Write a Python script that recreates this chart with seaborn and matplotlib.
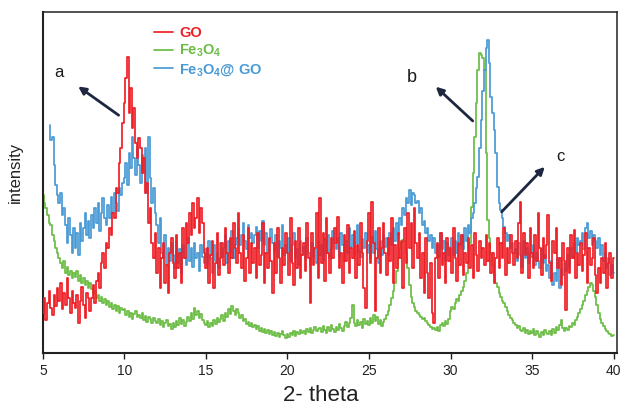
import numpy as np
import pandas as pd
import matplotlib
matplotlib.use("Agg")
import matplotlib.pyplot as plt
import seaborn as sns

sns.set_style("ticks")
plt.rcParams["font.family"] = ["Liberation Sans", "DejaVu Sans"]
plt.rcParams["mathtext.fontset"] = "custom"
plt.rcParams["mathtext.rm"] = "Liberation Sans:bold"
plt.rcParams["mathtext.default"] = "rm"

# 2-theta grid (degrees), 0.1 degree steps from 5 to 40
two_theta = [round(5 + 0.1 * i, 1) for i in range(351)]

# GO
go = [
    40, 55, 33, 50, 62, 45, 38, 58, 47, 65,
    52, 70, 44, 60, 48, 75, 55, 40, 62, 50,
    45, 58, 30, 52, 66, 48, 35, 60, 55, 42,
    55, 68, 50, 72, 80, 65, 90, 100, 85, 110,
    105, 125, 118, 140, 135, 165, 160, 190, 205, 230,
    250, 275, 296, 240, 265, 225, 245, 210, 195, 215,
    205, 180, 195, 160, 170, 130, 145, 110, 95, 120,
    80, 105, 65, 95, 110, 70, 88, 60, 100, 115,
    90, 75, 118, 85, 100, 70, 125, 95, 130, 110,
    140, 118, 150, 125, 135, 155, 120, 145, 130, 100,
    85, 105, 70, 98, 112, 65, 90, 120, 78, 95,
    110, 88, 125, 100, 80, 115, 95, 130, 105, 90,
    140, 100, 85, 118, 72, 95, 125, 80, 110, 90,
    105, 75, 120, 88, 98, 130, 70, 100, 85, 115,
    92, 60, 110, 80, 125, 95, 70, 105, 88, 120,
    100, 78, 135, 90, 68, 112, 85, 125, 75, 98,
    110, 82, 130, 95, 50, 120, 88, 105, 140, 75,
    155, 90, 120, 72, 135, 100, 80, 115, 95, 125,
    110, 136, 85, 100, 70, 118, 92, 128, 80, 105,
    95, 122, 75, 108, 88, 130, 100, 65, 45, 112,
    140, 90, 151, 110, 42, 95, 125, 80, 105, 130,
    100, 78, 115, 92, 135, 70, 108, 85, 120, 95,
    112, 65, 125, 90, 140, 105, 130, 85, 145, 110,
    95, 120, 75, 100, 60, 115, 80, 55, 90, 40,
    30, 95, 110, 75, 120, 88, 100, 70, 115, 92,
    105, 80, 125, 95, 72, 110, 88, 118, 78, 100,
    90, 115, 85, 108, 75, 120, 98, 82, 112, 95,
    105, 88, 118, 92, 110, 80, 100, 70, 95, 115,
    85, 110, 95, 125, 78, 105, 90, 118, 100, 88,
    112, 95, 130, 151, 80, 120, 98, 110, 75, 125,
    100, 85, 118, 92, 140, 105, 78, 115, 95, 108,
    138, 90, 72, 112, 100, 125, 85, 95, 68, 110,
    92, 43, 105, 80, 118, 95, 123, 75, 100, 88,
    110, 82, 98, 120, 70, 105, 88, 95, 115, 78,
    60, 85, 70, 95, 80, 110, 65, 90, 100, 75,
    95,
]

# Fe3O4
fe3o4 = [
    158, 150, 145, 138, 130, 128, 118, 112, 105, 100,
    95, 90, 85, 92, 80, 86, 78, 82, 75, 80,
    76, 82, 72, 78, 70, 75, 68, 72, 65, 70,
    64, 60, 62, 55, 58, 52, 56, 50, 54, 48,
    52, 46, 50, 44, 48, 42, 47, 40, 45, 43,
    44, 38, 42, 36, 40, 34, 39, 42, 36, 38,
    35, 40, 33, 37, 31, 36, 34, 30, 35, 32,
    30, 34, 28, 32, 26, 30, 33, 27, 29, 24,
    30, 26, 32, 28, 35, 29, 33, 27, 31, 36,
    32, 40, 34, 45, 38, 42, 35, 39, 33, 30,
    28, 32, 26, 30, 27, 33, 29, 35, 31, 34,
    38, 32, 40, 36, 44, 39, 47, 42, 38, 44,
    40, 35, 38, 32, 34, 29, 31, 27, 30, 26,
    28, 24, 27, 22, 25, 21, 24, 20, 23, 19,
    22, 18, 21, 17, 20, 16, 19, 22, 18, 15,
    19, 16, 20, 18, 22, 17, 21, 19, 23, 20,
    22, 19, 24, 21, 25, 20, 23, 26, 22, 24,
    25, 21, 27, 23, 20, 26, 22, 28, 24, 21,
    26, 23, 29, 25, 22, 27, 31, 26, 30, 35,
    48, 30, 27, 33, 28, 31, 25, 34, 29, 32,
    28, 35, 30, 38, 32, 36, 29, 33, 27, 31,
    34, 38, 42, 48, 55, 62, 70, 82, 95, 105,
    110, 113, 112, 100, 85, 68, 56, 50, 46, 42,
    40, 38, 36, 34, 35, 32, 30, 28, 26, 24,
    25, 23, 26, 22, 28, 30, 27, 32, 29, 34,
    42, 46, 44, 50, 54, 52, 58, 62, 66, 72,
    80, 92, 110, 146, 180, 216, 250, 283, 300, 298,
    295, 283, 200, 133, 115, 100, 88, 78, 70, 66,
    60, 56, 52, 50, 46, 42, 38, 35, 33, 30,
    28, 25, 27, 23, 22, 25, 20, 23, 19, 22,
    20, 24, 18, 22, 19, 16, 21, 18, 23, 20,
    19, 22, 18, 24, 20, 26, 23, 28, 33, 25,
    22, 25, 23, 27, 26, 30, 28, 33, 36, 40,
    44, 48, 52, 58, 62, 66, 70, 68, 62, 56,
    48, 40, 34, 30, 27, 24, 22, 20, 19, 17,
    18,
]

# Fe3O4@GO (scan starts a little above 5 degrees)
nan = float("nan")
fe3o4_go = [
    nan, nan, nan, nan, 228, 213, 216, 188, 168, 158,
    150, 160, 138, 145, 128, 110, 135, 118, 100, 125,
    105, 120, 98, 130, 112, 125, 140, 118, 132, 115,
    138, 125, 145, 130, 150, 122, 140, 155, 135, 128,
    148, 135, 156, 140, 160, 150, 142, 165, 158, 170,
    175, 190, 168, 200, 185, 216, 195, 178, 205, 188,
    170, 198, 180, 205, 160, 216, 175, 150, 165, 140,
    128, 110, 135, 100, 95, 118, 88, 105, 92, 110,
    98, 85, 112, 90, 104, 80, 108, 95, 88, 115,
    92, 105, 86, 110, 95, 100, 82, 108, 96, 90,
    104, 88, 112, 95, 80, 108, 92, 100, 85, 110,
    96, 105, 118, 90, 112, 100, 122, 95, 108, 115,
    125, 108, 118, 130, 112, 104, 128, 115, 120, 110,
    118, 126, 105, 122, 112, 132, 108, 120, 100, 114,
    124, 110, 102, 118, 96, 112, 105, 128, 98, 108,
    100, 115, 92, 108, 120, 95, 104, 88, 112, 98,
    106, 94, 115, 100, 88, 110, 96, 104, 90, 112,
    98, 108, 92, 114, 100, 118, 95, 105, 122, 110,
    104, 115, 96, 120, 108, 92, 112, 100, 125, 106,
    118, 98, 110, 128, 102, 96, 114, 105, 120, 100,
    108, 95, 116, 100, 122, 104, 90, 112, 98, 118,
    106, 115, 98, 120, 108, 125, 112, 130, 118, 135,
    128, 145, 138, 155, 150, 163, 148, 160, 158, 150,
    152, 140, 145, 128, 132, 120, 125, 112, 118, 105,
    115, 100, 108, 96, 120, 104, 112, 92, 110, 98,
    106, 115, 98, 112, 100, 120, 108, 118, 104, 125,
    112, 128, 120, 135, 140, 150, 165, 176, 205, 233,
    262, 283, 305, 313, 290, 256, 240, 223, 200, 166,
    150, 143, 135, 126, 120, 112, 118, 105, 110, 100,
    104, 92, 110, 98, 86, 112, 95, 105, 90, 100,
    96, 108, 88, 100, 92, 85, 104, 90, 98, 82,
    88, 75, 92, 68, 80, 72, 95, 65, 84, 78,
    90, 82, 98, 86, 105, 95, 110, 100, 115, 108,
    112, 120, 104, 125, 130, 115, 122, 108, 118, 112,
    105, 115, 98, 108, 92, 100, 85, 95, 78, 88,
    80,
]

labels = ["GO", "Fe$_3$O$_4$", "Fe$_3$O$_4$@ GO"]
colors = ["#ED2027", "#6CBD45", "#4A9AD4"]

df = pd.concat([
    pd.DataFrame({"two_theta": two_theta, "intensity": go, "sample": labels[0]}),
    pd.DataFrame({"two_theta": two_theta, "intensity": fe3o4, "sample": labels[1]}),
    pd.DataFrame({"two_theta": two_theta, "intensity": fe3o4_go, "sample": labels[2]}),
], ignore_index=True)

fig = plt.figure(figsize=(6.23, 4.07), dpi=100)
ax = fig.add_axes([0.069, 0.133, 0.921, 0.838])

# draw order: Fe3O4 underneath, then Fe3O4@GO, GO on top
handles = {}
for lab, col, z in [(labels[1], colors[1], 2), (labels[2], colors[2], 3), (labels[0], colors[0], 4)]:
    sub = df[df["sample"] == lab]
    sns.lineplot(data=sub, x="two_theta", y="intensity", ax=ax, color=col,
                 lw=1.25, drawstyle="steps-mid", estimator=None, sort=False,
                 zorder=z, label=lab, legend=False)
    handles[lab] = ax.get_lines()[-1]

ax.set_xlim(5, 40.2)
ax.set_ylim(0, 341)
ax.set_xticks([5, 10, 15, 20, 25, 30, 35, 40])
ax.set_yticks([])
ax.tick_params(axis="x", labelsize=10, length=4, width=1.0, pad=4, colors="#222222")
for s in ax.spines.values():
    s.set_visible(True)
    s.set_color("#222222")
    s.set_linewidth(1.1)
ax.spines["left"].set_linewidth(1.5)
ax.spines["bottom"].set_linewidth(1.5)

ax.set_xlabel("2- theta", fontsize=16, color="#222222")
ax.xaxis.set_label_coords(0.485, -0.095)
ax.set_ylabel("intensity", fontsize=12, color="#222222")
ax.yaxis.set_label_coords(-0.035, 0.53)

leg = ax.legend([handles[l] for l in labels], labels, loc="upper left",
                bbox_to_anchor=(0.17, 0.997), frameon=False, handlelength=1.3,
                handletextpad=0.45, labelspacing=0.2, labelcolor="linecolor",
                prop={"size": 10.5, "weight": "bold"})

arrow_kw = dict(arrowstyle="-|>", color="#1E2740", lw=2.0, mutation_scale=11)
ax.annotate("", xy=(7.02, 268), xytext=(9.78, 236), arrowprops=arrow_kw)
ax.annotate("", xy=(28.97, 268), xytext=(31.49, 230), arrowprops=arrow_kw)
ax.annotate("", xy=(35.9, 188), xytext=(33.02, 139), arrowprops=arrow_kw)
ax.text(5.98, 280, "a", fontsize=12, color="#1A1A1A", ha="center", va="center")
ax.text(27.62, 275, "b", fontsize=13, color="#1A1A1A", ha="center", va="center")
ax.text(36.76, 196, "c", fontsize=12, color="#1A1A1A", ha="center", va="center")

fig.savefig("out.png", dpi=100)
